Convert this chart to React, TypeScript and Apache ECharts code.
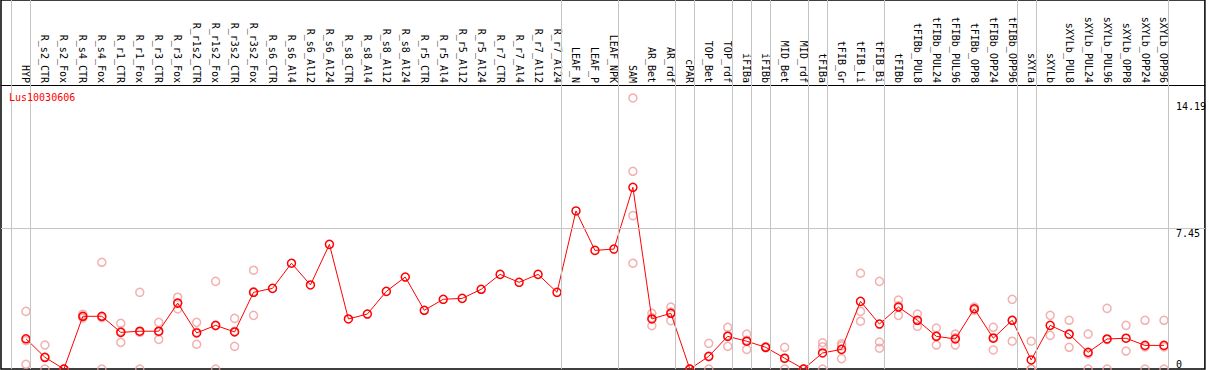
import React, { useEffect, useRef } from "react";
import * as echarts from "echarts";

const categories = [
  "HYP", "R_s2_CTR", "R_s2_Fox", "R_s4_CTR", "R_s4_Fox", "R_r1_CTR", "R_r1_Fox", "R_r3_CTR", "R_r3_Fox",
  "R_r1s2_CTR", "R_r1s2_Fox", "R_r3s2_CTR", "R_r3s2_Fox", "R_s6_CTR", "R_s6_Al4", "R_s6_Al12", "R_s6_Al24",
  "R_s8_CTR", "R_s8_Al4", "R_s8_Al12", "R_s8_Al24", "R_r5_CTR", "R_r5_Al4", "R_r5_Al12", "R_r5_Al24",
  "R_r7_CTR", "R_r7_Al4", "R_r7_Al12", "R_r7_Al24", "LEAF_N", "LEAF_P", "LEAF_NPK", "SAM", "AR_Bet", "AR_rdf",
  "cPAR", "TOP_Bet", "TOP_rdf", "iFIBa", "iFIBb", "MID_Bet", "MID_rdf", "tFIBa", "tFIB_Gr", "tFIB_Li", "tFIB_Bi",
  "tFIBb", "tFIBb_PUL8", "tFIBb_PUL24", "tFIBb_PUL96", "tFIBb_OPP8", "tFIBb_OPP24", "tFIBb_OPP96",
  "sXYLa", "sXYLb", "sXYLb_PUL8", "sXYLb_PUL24", "sXYLb_PUL96", "sXYLb_OPP8", "sXYLb_OPP24", "sXYLb_OPP96",
];

const meanValues = [
  1.60, 0.62, 0.00, 2.79, 2.79, 1.94, 2.00, 2.00, 3.49, 1.91, 2.31, 1.96, 4.06,
  4.27, 5.60, 4.45, 6.60, 2.65, 2.91, 4.11, 4.87, 3.11, 3.69, 3.74, 4.22, 5.01, 4.59, 5.01, 4.06,
  8.37, 6.28, 6.35, 9.62, 2.65, 2.95, 0.00, 0.67, 1.73, 1.47, 1.15, 0.57, 0.00, 0.85, 1.04, 3.58, 2.38,
  3.28, 2.58, 1.73, 1.59, 3.19, 1.63, 2.58, 0.48, 2.31, 1.85, 0.88, 1.59, 1.63, 1.25, 1.25,
];

const replicateValues: number[][] = [
  [3.05, 1.50, 0.25], [1.27, 0.60, 0], [0, 0, 0], [2.90, 2.70, 2.78], [5.65, 2.72, 0],
  [2.42, 1.41, 1.99], [4.06, 1.94, 0], [2.47, 1.57, 1.96], [3.80, 3.18, 3.49], [2.47, 1.31, 1.95],
  [4.64, 2.29, 0], [2.68, 1.20, 2.00], [5.23, 2.84, 4.10],
  [], [], [], [], [], [], [], [], [], [], [], [], [], [], [], [], [], [], [],
  [14.35, 10.47, 8.12, 5.60], [2.95, 2.29, 2.71], [3.28, 2.56, 3.01], [0, 0, 0], [1.36, 0.65, 0],
  [2.21, 1.20, 1.78], [1.85, 1.04, 1.52], [1.18, 1.12, 1.15], [1.15, 0.56, 0], [0, 0, 0],
  [1.39, 1.18, 0], [1.34, 1.23, 0.55], [5.07, 3.05, 2.53], [4.64, 1.43, 1.10], [3.65, 3.35, 2.84],
  [2.91, 2.57, 2.26], [2.17, 1.75, 1.27], [1.85, 1.65, 1.27], [3.28, 3.12, 3.17], [2.21, 1.67, 1.01],
  [3.69, 2.58, 1.47], [1.47, 0, 0], [2.84, 1.78], [2.58, 1.83, 1.15], [1.85, 0.80, 0], [3.21, 1.56, 0],
  [2.31, 0.95], [2.58, 1.17, 0], [2.58, 1.17, 0],
];

// index of last category in each group (group separators drawn right after it)
const groupEnds = [-1, 0, 28, 31, 34, 35, 37, 38, 39, 41, 42, 45, 52, 53, 60];

const yTickLabels = [7.45, 14.19];
const yZeroLabel = [0];
const gridLineValue = 7.45;
const geneName = "Lus10030606";

const FONT = "DejaVu Sans Mono";

export default function App() {
  const ref = useRef<HTMLDivElement>(null);

  useEffect(() => {
    if (!ref.current) return;
    const chart = echarts.init(ref.current, null, { renderer: "svg" });

    // pixel geometry: first category at x=26, step 19px, grid spans x 1..1207
    const step = 19;
    const first = 26;
    const xMin = (1 - first) / step;
    const xMax = (1207 - first) / step;
    // y: 0 at y=369, 7.45 at y=228.3
    const yMax = (369 * gridLineValue) / (369 - 228.3);

    const meanData = meanValues.map((v, i) => [i, v]);
    const repData: number[][] = [];
    replicateValues.forEach((arr, i) => arr.forEach((v) => repData.push([i, v])));

    const sepLines = groupEnds.map((g) => ({ xAxis: g + 0.24 }));

    chart.setOption({
      animation: false,
      title: {
        text: geneName,
        left: 9,
        top: 92,
        padding: 0,
        textStyle: { color: "#ff0000", fontSize: 10, fontFamily: FONT, fontWeight: "normal" },
      },
      grid: {
        left: 1,
        right: 2,
        top: 0,
        bottom: 1,
        show: true,
        borderColor: "#000",
        borderWidth: 1.5,
        backgroundColor: "#fff",
      },
      xAxis: {
        type: "value",
        position: "top",
        offset: -85,
        min: xMin,
        max: xMax,
        axisLine: { show: true, onZero: false, lineStyle: { color: "#000", width: 1 } },
        axisTick: { show: false },
        splitLine: { show: false },
        axisLabel: {
          customValues: categories.map((_, i) => i),
          formatter: (v: number) => categories[Math.round(v)] ?? "",
          rotate: 90,
          margin: 2,
          color: "#000",
          fontSize: 10,
          fontFamily: FONT,
        },
      },
      yAxis: [
        {
          type: "value",
          position: "right",
          min: 0,
          max: yMax,
          axisLine: { show: false },
          axisTick: { show: false },
          splitLine: { show: false },
          axisLabel: {
            customValues: yTickLabels,
            inside: true,
            margin: 29,
            align: "left",
            verticalAlign: "top",
            color: "#000",
            fontSize: 10,
            fontFamily: FONT,
          },
        },
        {
          type: "value",
          position: "right",
          min: 0,
          max: yMax,
          axisLine: { show: false },
          axisTick: { show: false },
          splitLine: { show: false },
          axisLabel: {
            customValues: yZeroLabel,
            inside: true,
            margin: 29,
            align: "left",
            verticalAlign: "bottom",
            color: "#000",
            fontSize: 10,
            fontFamily: FONT,
          },
        },
      ],
      series: [
        {
          type: "line",
          name: "sep",
          data: [],
          silent: true,
          markLine: {
            silent: true,
            symbol: "none",
            label: { show: false },
            lineStyle: { color: "#c4c4c4", width: 1, type: "solid" },
            data: [...sepLines, { yAxis: gridLineValue }],
          },
          z: 1,
        },
        {
          type: "scatter",
          name: "replicates",
          data: repData,
          symbol: "circle",
          symbolSize: 8,
          itemStyle: { color: "rgba(0,0,0,0)", borderColor: "#f09c9c", borderWidth: 1.5 },
          z: 2,
          clip: false,
        },
        {
          type: "line",
          name: "mean",
          data: meanData,
          symbol: "circle",
          symbolSize: 8,
          showSymbol: true,
          lineStyle: { color: "#ff0000", width: 1 },
          itemStyle: { color: "rgba(0,0,0,0)", borderColor: "#ff0000", borderWidth: 1.5 },
          z: 3,
          clip: false,
        },
      ],
    });

    return () => chart.dispose();
  }, []);

  return (
    <div
      ref={ref}
      style={{ position: "fixed", left: 0, top: 0, width: 1209, height: 370, background: "#fff" }}
    />
  );
}
